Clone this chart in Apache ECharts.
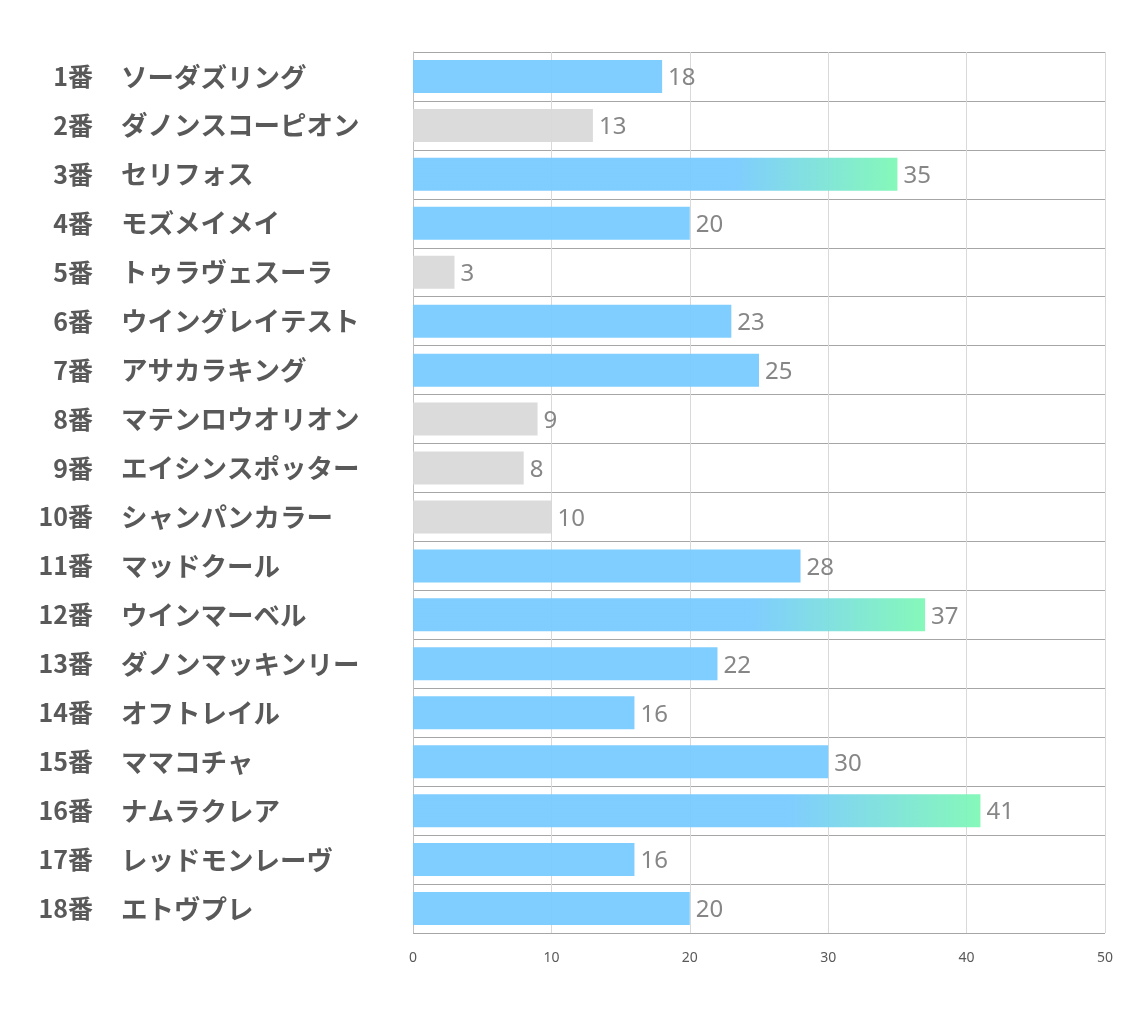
<!DOCTYPE html>
<html>
<head>
<meta charset="utf-8">
<script src="https://cdn.jsdelivr.net/npm/echarts@6/dist/echarts.min.js"></script>
<style>
html,body{margin:0;padding:0;background:#fff;}
#chart{width:1134px;height:1020px;}
</style>
</head>
<body>
<div id="chart"></div>
<script>
const numbers = ['1番','2番','3番','4番','5番','6番','7番','8番','9番','10番','11番','12番','13番','14番','15番','16番','17番','18番'];
const horses = ['ソーダズリング','ダノンスコーピオン','セリフォス','モズメイメイ','トゥラヴェスーラ','ウイングレイテスト','アサカラキング','マテンロウオリオン','エイシンスポッター','シャンパンカラー','マッドクール','ウインマーベル','ダノンマッキンリー','オフトレイル','ママコチャ','ナムラクレア','レッドモンレーヴ','エトヴプレ'];
const scores = [18,13,35,20,3,23,25,9,8,10,28,37,22,16,30,41,16,20];
// 0: 青, 1: グレー, 2: グラデーション
const kinds = [0,1,2,0,1,0,0,1,1,1,0,2,0,0,0,2,0,0];

const chart = echarts.init(document.getElementById('chart'));

const blue = '#79CAFF';
const grey = '#D9D9D9';
const gradient = new echarts.graphic.LinearGradient(0, 0, 1, 0, [
    {offset: 0, color: blue},
    {offset: 0.66, color: blue},
    {offset: 1, color: '#7FF8B6'}
]);

const barData = scores.map((v, i) => ({
    value: v,
    itemStyle: {color: kinds[i] === 1 ? grey : (kinds[i] === 2 ? gradient : blue)}
}));

const labelFont = {fontWeight: 'bold', color: '#595959', fontFamily: 'Noto Sans CJK JP'};

const option = {
    backgroundColor: '#fff',
    animation: false,
    grid: {left: 413, right: 29, top: 52, bottom: 87},
    xAxis: {
        type: 'value',
        min: 0,
        max: 50,
        interval: 10,
        axisLine: {show: false},
        axisTick: {show: false},
        axisLabel: {color: '#595959', fontSize: 14, margin: 18, fontFamily: 'Noto Sans'},
        splitLine: {lineStyle: {color: '#D9D9D9', width: 1}}
    },
    yAxis: [
        {
            // 馬番（右寄せ）
            type: 'category',
            inverse: true,
            data: numbers,
            axisLine: {lineStyle: {color: '#BFBFBF'}},
            axisTick: {show: false},
            splitLine: {show: true, lineStyle: {color: '#A6A6A6', width: 1}},
            axisLabel: Object.assign({margin: 320, align: 'right', fontSize: 25}, labelFont)
        },
        {
            // 馬名（左寄せ）
            type: 'category',
            position: 'left',
            inverse: true,
            data: horses,
            axisLine: {show: false},
            axisTick: {show: false},
            splitLine: {show: false},
            axisLabel: Object.assign({margin: 292, align: 'left', fontSize: 26.5}, labelFont)
        }
    ],
    series: [{
        type: 'bar',
        yAxisIndex: 0,
        data: barData,
        barWidth: 33,
        itemStyle: {opacity: 0.95},
        label: {
            show: true,
            position: 'right',
            distance: 6,
            offset: [0, 2],
            color: '#7F7F7F',
            fontSize: 24,
            fontFamily: 'Noto Sans'
        }
    }]
};
chart.setOption(option);
window.addEventListener('resize', () => {
    chart.resize();
});
</script>
</body>
</html>
